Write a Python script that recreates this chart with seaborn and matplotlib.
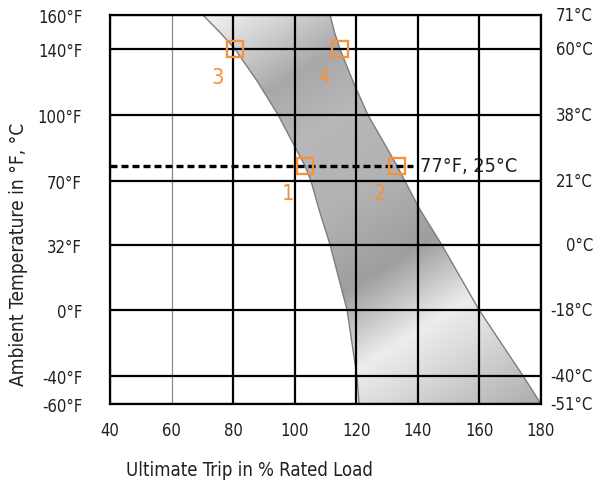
import numpy as np
import matplotlib
matplotlib.use("Agg")
import matplotlib.pyplot as plt
import matplotlib.transforms as mtrans
from matplotlib import font_manager
import seaborn as sns

# ---- data ----
temp_f = [160, 150, 140, 120, 100, 77, 70, 53, 32, 0, -40, -60]
left_pct = [70.2, 75.6, 80.6, 88.0, 94.6, 103.3, 105.3, 107.9, 111.5, 117.0, 120.2, 120.9]
right_pct = [111.5, 112.9, 114.7, 119.0, 123.8, 133.2, 135.8, 140.7, 147.8, 159.9, 174.2, 180.0]

y_ticks_f = [160, 140, 100, 70, 32, 0, -40, -60]
y_labels_f = ["160°F", "140°F", "100°F", "70°F", "32°F", "0°F", "-40°F", "-60°F"]
y_labels_c = ["71°C", "60°C", "38°C", "21°C", "0°C", "-18°C", "-40°C", "-51°C"]
x_ticks = [40, 60, 80, 100, 120, 140, 160, 180]

marker_x = [103.3, 133.2, 80.5, 114.7]
marker_y = [77, 77, 140, 140]
marker_lbl = ["1", "2", "3", "4"]

ref_temp = 77
ref_label = "77°F, 25°C"
ref_end = 138.4

# uneven vertical spacing of the temperature grid
scale_f = [-60, -40, 0, 32, 70, 100, 140, 160]
scale_pos = [0, 28, 94, 159, 223, 289, 355, 389]

def fwd(v):
    return np.interp(v, scale_f, scale_pos)

def inv(p):
    return np.interp(p, scale_pos, scale_f)

sns.set_theme(style="white")

# pick a condensed face if one exists
names = {f.name for f in font_manager.fontManager.ttflist}
cond = [f for f in font_manager.fontManager.ttflist
        if f.name == "DejaVu Sans" and "ondensed" in f.fname and f.weight in (400, "normal")]
if "Liberation Sans Narrow" in names:
    plt.rcParams["font.family"] = ["Liberation Sans Narrow", "DejaVu Sans"]
    SC = 1.0
elif cond:
    plt.rcParams["font.family"] = ["DejaVu Sans"]
    plt.rcParams["font.stretch"] = "condensed"
    SC = 0.92
else:
    plt.rcParams["font.family"] = ["Roboto", "DejaVu Sans"]
    SC = 0.92

fig = plt.figure(figsize=(5.95, 4.89), dpi=100)
ax = fig.add_axes([110 / 595, 1 - 405 / 489, 431 / 595, 389 / 489])
ax.set_yscale("function", functions=(fwd, inv))

orange = "#f4923f"
txt = "#231f20"

# band
coll = ax.fill_betweenx(temp_f, left_pct, right_pct, facecolor="none",
                        edgecolor="none", zorder=1)
# metallic gradient
W, H = 431, 389
px, py = np.meshgrid(np.arange(W) + 110, np.arange(H) + 16)
u = 0.63 * px + py
g = np.interp(u, [140, 200, 260, 330, 420, 510, 594, 640, 720, 760],
              [0.97, 0.82, 0.66, 0.72, 0.70, 0.62, 0.93, 0.86, 0.72, 0.64])
img = np.dstack([g, g, np.clip(g + 0.01, 0, 1)])
im = ax.imshow(img, extent=(0, 1, 0, 1), transform=ax.transAxes,
               aspect="auto", origin="upper", zorder=1.2, interpolation="bilinear")
im.set_clip_path(coll.get_paths()[0], ax.transData)

sns.lineplot(x=left_pct, y=temp_f, orient="y", ax=ax, color="#7d7d7d",
             lw=1.0, zorder=1.5)
sns.lineplot(x=right_pct, y=temp_f, orient="y", ax=ax, color="#7d7d7d",
             lw=1.0, zorder=1.5)

ax.set_xlim(40, 180)
ax.set_ylim(-60, 160)

# grid
ax.set_xticks(x_ticks)
ax.set_yticks(y_ticks_f)
ax.set_yticklabels(y_labels_f)
ax.grid(True, color="black", lw=1.6, zorder=2)
ax.set_axisbelow(False)
for gl in ax.get_ygridlines() + ax.get_xgridlines():
    gl.set_zorder(2)
ax.get_xgridlines()[1].set(color="#8a8a8a", lw=0.9)
for sp in ax.spines.values():
    sp.set_color("black")
    sp.set_linewidth(1.6)
    sp.set_zorder(3)

ax.tick_params(axis="y", length=0, pad=20, labelsize=13 * SC, colors=txt)
ax.tick_params(axis="x", length=0, pad=12, labelsize=13 * SC, colors=txt)

btr = mtrans.blended_transform_factory(ax.transAxes, ax.transData)
for yv, lab in zip(y_ticks_f, y_labels_c):
    ax.text(1.1206, yv, lab, transform=btr, fontsize=13 * SC, ha="right",
            va="center", color=txt, clip_on=False)

# reference dashed line
ax.plot([40, ref_end], [ref_temp, ref_temp], color="black", lw=2.4,
        linestyle=(0, (2.1, 1.2)), zorder=4)
ax.text(140.6, ref_temp, ref_label, fontsize=15.5 * SC, ha="left", va="center",
        color=txt, zorder=1.8)

# markers
ax.plot(marker_x, marker_y, linestyle="none", marker="s", markersize=11,
        markerfacecolor="none", markeredgecolor=orange, markeredgewidth=1.7,
        zorder=5)
for mx, my, ml in zip(marker_x, marker_y, marker_lbl):
    ax.annotate(ml, (mx, my), xytext=(-12, -20), textcoords="offset points",
                fontsize=17 * SC, color=orange, ha="center", va="center", zorder=5)

ax.set_xlabel("Ultimate Trip in % Rated Load", fontsize=14.5 * SC, color=txt)
ax.xaxis.set_label_coords(0.3225, -0.145)
ax.set_ylabel("Ambient Temperature in °F, °C", fontsize=15 * SC, color=txt)
ax.yaxis.set_label_coords(-0.19, 0.388)

fig.savefig("out.png", dpi=100)
